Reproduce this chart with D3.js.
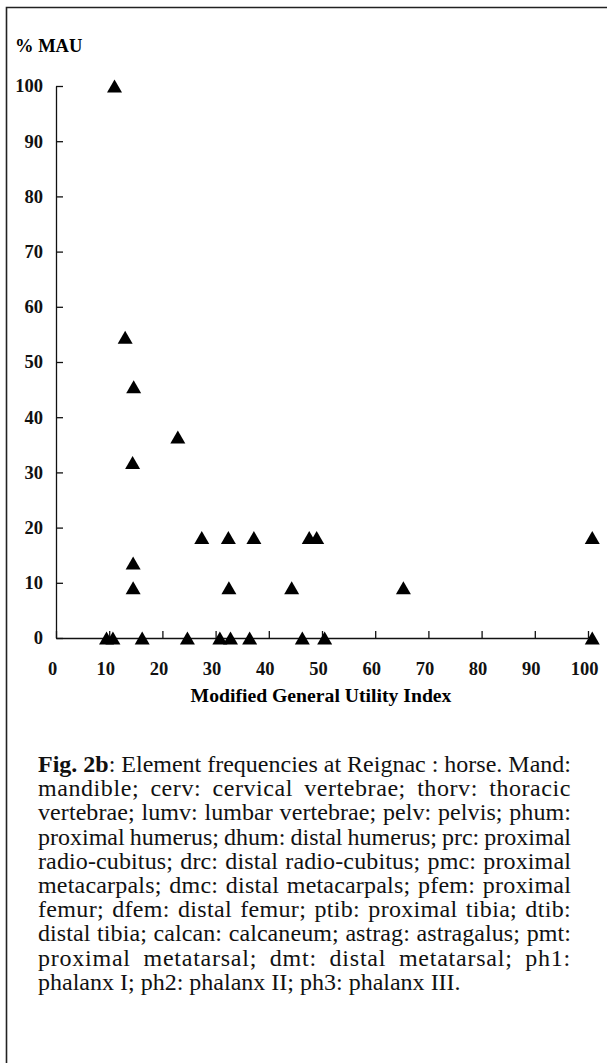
<!DOCTYPE html>
<html>
<head>
<meta charset="utf-8">
<script src="https://cdn.jsdelivr.net/npm/d3@7"></script>
<style>
  html, body { margin: 0; padding: 0; background: #fff; }
  svg { display: block; }
  .axis text { font-family: "Liberation Serif", "Times New Roman", serif; font-weight: bold; font-size: 18.5px; fill: #111; }
  .axis path, .axis line { stroke: #111; stroke-width: 1.3; }
</style>
</head>
<body>
<svg id="chart"></svg>
<script>
var width = 607,
    height = 1063;

// data: Modified General Utility Index vs %MAU
var mguiValues = [11.0, 13.0, 14.6, 22.9, 14.4,
                  27.4, 32.4, 37.2, 47.6, 49.0, 100.8,
                  14.5, 14.5, 32.5, 44.3, 65.3,
                  9.5, 10.7, 16.2, 24.7, 30.8, 32.8, 36.4, 46.3, 50.5, 100.8];
var mauValues  = [100, 54.5, 45.5, 36.4, 31.8,
                  18.2, 18.2, 18.2, 18.2, 18.2, 18.2,
                  13.6, 9.1, 9.1, 9.1, 9.1,
                  0, 0, 0, 0, 0, 0, 0, 0, 0, 0];

var xTicks = [0, 10, 20, 30, 40, 50, 60, 70, 80, 90, 100];
var yTicks = [0, 10, 20, 30, 40, 50, 60, 70, 80, 90, 100];

var yTitle = "% MAU";
var xTitle = "Modified General Utility Index";

var captionLines = [
  "Fig. 2b: Element frequencies at Reignac : horse. Mand:",
  "mandible; cerv: cervical vertebrae; thorv: thoracic",
  "vertebrae; lumv: lumbar vertebrae; pelv: pelvis; phum:",
  "proximal humerus; dhum: distal humerus; prc: proximal",
  "radio-cubitus; drc: distal radio-cubitus; pmc: proximal",
  "metacarpals; dmc: distal metacarpals; pfem: proximal",
  "femur; dfem: distal femur; ptib: proximal tibia; dtib:",
  "distal tibia; calcan: calcaneum; astrag: astragalus; pmt:",
  "proximal metatarsal; dmt: distal metatarsal; ph1:",
  "phalanx I; ph2: phalanx II; ph3: phalanx III."
];

var svg = d3.select("#chart")
    .attr("width", width)
    .attr("height", height);

// frame (only top and left edges are visible on the scan)
svg.append("path")
    .attr("d", "M6.5," + height + "V7.5H" + width)
    .attr("fill", "none")
    .attr("stroke", "#222")
    .attr("stroke-width", 1.6);

var xScale = d3.scaleLinear().domain([0, 100]).range([56, 588]);
var yScale = d3.scaleLinear().domain([0, 100]).range([638, 86]);

var yAxisGroup = svg.append("g")
    .attr("class", "axis")
    .attr("transform", "translate(" + xScale(0) + ",0)")
    .call(d3.axisLeft(yScale)
        .tickValues(yTicks)
        .tickSizeInner(-7)
        .tickSizeOuter(0)
        .tickPadding(13));

var xAxisGroup = svg.append("g")
    .attr("class", "axis")
    .attr("transform", "translate(0," + yScale(0) + ")")
    .call(d3.axisBottom(xScale)
        .tickValues(xTicks)
        .tickSizeInner(-7)
        .tickSizeOuter(0)
        .tickPadding(24));

xAxisGroup.selectAll(".tick text").attr("dx", -4);

svg.append("text")
    .attr("x", 15)
    .attr("y", 52)
    .style("font-family", "Liberation Serif, serif")
    .style("font-weight", "bold")
    .style("font-size", "18.5px")
    .text(yTitle);

svg.append("text")
    .attr("x", 321)
    .attr("y", 702)
    .attr("text-anchor", "middle")
    .style("font-family", "Liberation Serif, serif")
    .style("font-weight", "bold")
    .style("font-size", "19.7px")
    .text(xTitle);

// triangle markers
var tri = "M0,-6.5L7.5,6.5L-7.5,6.5Z";
svg.append("g").selectAll("path")
    .data(d3.range(mguiValues.length))
    .enter()
    .append("path")
        .attr("d", tri)
        .attr("fill", "#000")
        .attr("transform", function(i) {
            return "translate(" + xScale(mguiValues[i]) + "," + yScale(mauValues[i]) + ")";
        });

// caption, justified between left and right edges
var capLeft = 38, capRight = 571, capTop = 772, capStep = 24.2;
var caption = svg.append("g")
    .style("font-family", "Liberation Serif, Times New Roman, serif")
    .style("font-size", "24px")
    .style("fill", "#111");

var spaceW = 6;

captionLines.forEach(function(line, li) {
    var words = line.split(" ");
    var last = (li == captionLines.length - 1);
    var nodes = words.map(function(w, wi) {
        var t = caption.append("text").attr("y", capTop + li * capStep);
        if (li == 0 && wi == 0) {
            t.append("tspan").style("font-weight", "bold").text(w);
        } else if (li == 0 && wi == 1) {
            t.append("tspan").style("font-weight", "bold").text("2b");
            t.append("tspan").text(":");
        } else {
            t.text(w);
        }
        return t;
    });
    var widths = nodes.map(function(t) { return t.node().getComputedTextLength(); });
    var total = d3.sum(widths);
    var extra = capRight - capLeft - total - (words.length - 1) * spaceW;
    if (!last && extra > 0) {
        // spread part of the slack into the letters, like the typeset original
        var chars = d3.sum(words, function(w) { return w.length; });
        var ls = Math.min(1.2, extra * 0.5 / chars);
        nodes.forEach(function(t) { t.style("letter-spacing", ls + "px"); });
        widths = nodes.map(function(t) { return t.node().getComputedTextLength(); });
        total = d3.sum(widths);
    }
    var gap = last ? spaceW : (capRight - capLeft - total) / (words.length - 1);
    var x = capLeft;
    nodes.forEach(function(t, i) {
        t.attr("x", x);
        x += widths[i] + gap;
    });
});
</script>
</body>
</html>
